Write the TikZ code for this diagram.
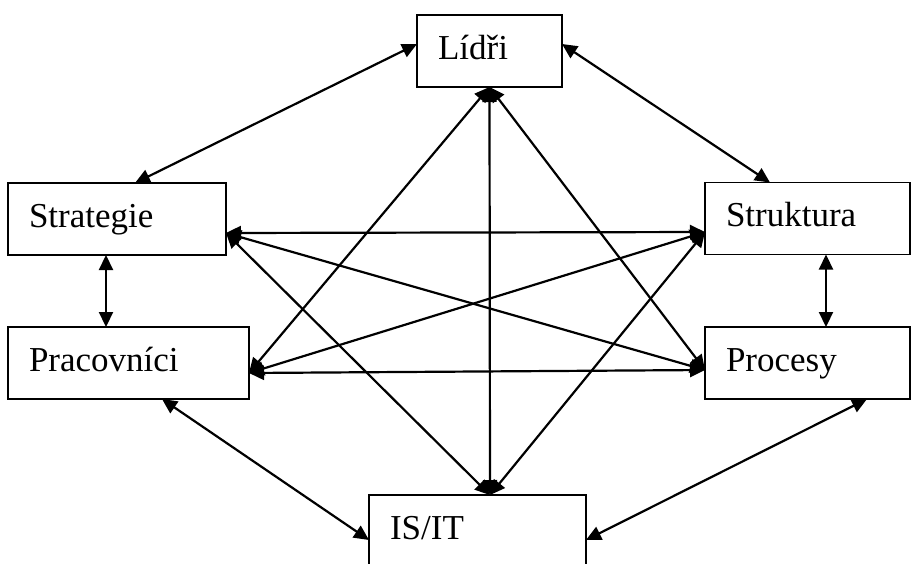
\documentclass[tikz,border=0pt]{standalone}
\usepackage{fontspec}
\setmainfont{Liberation Serif}
\usetikzlibrary{arrows.meta}

\begin{document}
\begin{tikzpicture}[
    x=1pt, y=-1pt,
    box/.style={
        rectangle,
        draw,
        line width=1.6pt,
        outer sep=0pt,
        inner xsep=21pt,
        inner ysep=0pt,
        minimum height=72pt,
        text height=24pt,
        text depth=8pt,
        align=left,
        font=\fontsize{35}{40}\selectfont
    },
    link/.style={{Triangle[length=15pt,width=14pt]}-{Triangle[length=15pt,width=14pt]}, line width=2.2pt}
]
\useasboundingbox (0,0) rectangle (911,563);

\node[box, text width=103pt] (lidri) at (489.5,51) {Lídři};
\node[box, text width=176pt] (strat) at (117,219) {Strategie};
\node[box, text width=163pt] (strukt) at (807.5,218.5) {Struktura};
\node[box, text width=199pt] (prac) at (128.5,363) {Pracovníci};
\node[box, text width=163pt] (proc) at (807.5,363) {Procesy};
\node[box, text width=175pt] (isit) at (477.5,531) {IS/IT};

% outer ring
\draw[link] ([yshift=7pt]lidri.west) -- ([xshift=18pt]strat.north);
\draw[link] ([yshift=7pt]lidri.east) -- ([xshift=-37.5pt]strukt.north);
\draw[link] ([xshift=-11pt]strat.south) -- ([xshift=-11pt]strat.south |- prac.north);
\draw[link] ([xshift=18.5pt]strukt.south) -- ([xshift=18.5pt]strukt.south |- proc.north);
\draw[link] ([xshift=33.5pt]prac.south) -- ([yshift=-9pt]isit.west);
\draw[link] ([xshift=59.5pt]proc.south) -- ([yshift=-9pt]isit.east);

% inner links
\draw[link] (lidri.south) -- ([xshift=12.5pt]isit.north);
\draw[link] (lidri.south) -- ([yshift=-10pt]prac.east);
\draw[link] (lidri.south) -- ([yshift=-7pt]proc.west);
\draw[link] ([xshift=12.5pt]isit.north) -- ([yshift=-14pt]strat.east);
\draw[link] ([xshift=12.5pt]isit.north) -- ([yshift=-13.5pt]strukt.west);
\draw[link] ([yshift=-14pt]strat.east) -- ([yshift=-13.5pt]strukt.west);
\draw[link] ([yshift=-14pt]strat.east) -- ([yshift=-7pt]proc.west);
\draw[link] ([yshift=-10pt]prac.east) -- ([yshift=-13.5pt]strukt.west);
\draw[link] ([yshift=-10pt]prac.east) -- ([yshift=-7pt]proc.west);

\end{tikzpicture}
\end{document}
